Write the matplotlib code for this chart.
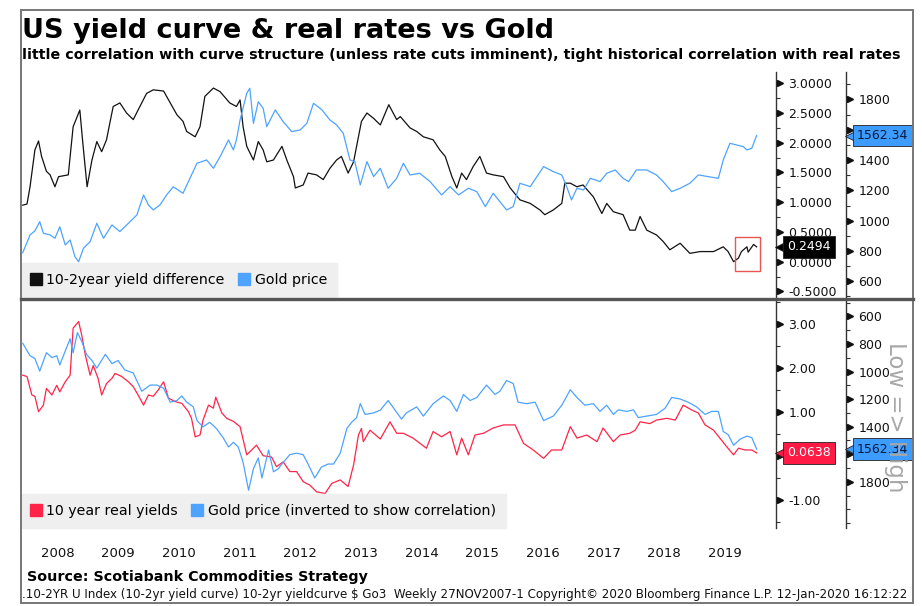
import matplotlib
matplotlib.use('Agg')
import matplotlib.pyplot as plt
from matplotlib.lines import Line2D
from matplotlib.patches import Rectangle
from matplotlib.ticker import MultipleLocator, FormatStrFormatter
from matplotlib.transforms import ScaledTranslation

plt.rcParams['font.family'] = ['DejaVu Sans']

# 10-2 year yield difference (top panel), decimal years
curve_t = [2007.93, 2008.00, 2008.05, 2008.13, 2008.19, 2008.24, 2008.32, 2008.38, 2008.46, 2008.52,
           2008.68, 2008.76, 2008.87, 2008.92, 2008.99, 2009.07, 2009.15, 2009.23, 2009.31, 2009.37,
           2009.42, 2009.53, 2009.64, 2009.75, 2009.86, 2009.97, 2010.08, 2010.25, 2010.36, 2010.47,
           2010.57, 2010.63, 2010.77, 2010.85, 2010.93, 2011.07, 2011.18, 2011.34, 2011.45, 2011.51,
           2011.56, 2011.62, 2011.73, 2011.81, 2011.89, 2011.95, 2012.06, 2012.20, 2012.28, 2012.39,
           2012.42, 2012.55, 2012.63, 2012.77, 2012.88, 2012.99, 2013.10, 2013.18, 2013.29, 2013.38,
           2013.46, 2013.51, 2013.60, 2013.71, 2013.82, 2013.96, 2014.09, 2014.15, 2014.31, 2014.42,
           2014.53, 2014.69, 2014.80, 2014.89, 2015.00, 2015.08, 2015.16, 2015.24, 2015.35, 2015.46,
           2015.57, 2015.68, 2015.85, 2015.96, 2016.12, 2016.29, 2016.45, 2016.53, 2016.67, 2016.81,
           2016.86, 2016.95, 2017.06, 2017.16, 2017.33, 2017.47, 2017.55, 2017.66, 2017.82, 2017.93,
           2018.02, 2018.10, 2018.21, 2018.37, 2018.48, 2018.59, 2018.76, 2018.92, 2019.09, 2019.31,
           2019.47, 2019.55, 2019.64, 2019.72, 2019.77, 2019.86, 2019.88, 2019.97, 2020.02]
curve_v = [0.95, 0.97, 1.26, 1.88, 2.03, 1.77, 1.52, 1.46, 1.26, 1.43,
           1.46, 2.27, 2.55, 1.99, 1.26, 1.71, 2.02, 1.85, 2.05, 2.36,
           2.61, 2.67, 2.50, 2.39, 2.61, 2.83, 2.89, 2.87, 2.67, 2.47,
           2.36, 2.19, 2.10, 2.27, 2.78, 2.92, 2.86, 2.67, 2.61, 2.72,
           2.27, 1.94, 1.71, 2.02, 1.88, 1.68, 1.71, 1.94, 1.71, 1.43,
           1.24, 1.29, 1.49, 1.46, 1.38, 1.57, 1.71, 1.77, 1.49, 1.68,
           2.10, 2.36, 2.50, 2.41, 2.30, 2.64, 2.39, 2.44, 2.25, 2.19,
           2.10, 2.05, 1.88, 1.77, 1.43, 1.24, 1.49, 1.38, 1.60, 1.77,
           1.49, 1.46, 1.43, 1.24, 1.04, 0.98, 0.87, 0.79, 0.87, 0.98,
           1.32, 1.32, 1.26, 1.29, 1.09, 0.81, 0.98, 0.84, 0.79, 0.53,
           0.53, 0.76, 0.53, 0.45, 0.34, 0.20, 0.31, 0.14, 0.17, 0.17,
           0.25, 0.17, 0.00, 0.06, 0.17, 0.25, 0.16, 0.29, 0.2494]

# gold price
gold_top_t = [2007.93, 2008.05, 2008.13, 2008.21, 2008.27, 2008.38, 2008.46, 2008.54, 2008.63, 2008.71,
              2008.79, 2008.85, 2008.93, 2009.04, 2009.15, 2009.26, 2009.40, 2009.53, 2009.67, 2009.81,
              2009.92, 2010.00, 2010.08, 2010.19, 2010.30, 2010.41, 2010.57, 2010.71, 2010.80, 2010.96,
              2011.07, 2011.18, 2011.32, 2011.40, 2011.45, 2011.51, 2011.62, 2011.67, 2011.73, 2011.81,
              2011.89, 2011.95, 2012.09, 2012.22, 2012.36, 2012.50, 2012.61, 2012.72, 2012.86, 2012.99,
              2013.10, 2013.21, 2013.32, 2013.40, 2013.49, 2013.60, 2013.71, 2013.82, 2013.95, 2014.09,
              2014.20, 2014.31, 2014.47, 2014.64, 2014.83, 2014.97, 2015.11, 2015.27, 2015.41, 2015.55,
              2015.68, 2015.90, 2016.01, 2016.12, 2016.29, 2016.40, 2016.51, 2016.67, 2016.81, 2016.89,
              2016.97, 2017.06, 2017.17, 2017.28, 2017.44, 2017.55, 2017.69, 2017.82, 2017.91, 2018.04,
              2018.21, 2018.37, 2018.48, 2018.62, 2018.76, 2018.92, 2019.06, 2019.22, 2019.39, 2019.47,
              2019.58, 2019.69, 2019.80, 2019.86, 2019.94, 2020.02]
gold_top_v = [789, 906, 933, 993, 917, 906, 884, 960, 840, 873,
              762, 729, 818, 862, 983, 884, 972, 928, 983, 1038,
              1170, 1104, 1071, 1104, 1170, 1224, 1181, 1302, 1379, 1401,
              1346, 1422, 1533, 1467, 1533, 1665, 1841, 1874, 1643, 1785,
              1742, 1621, 1731, 1654, 1588, 1599, 1643, 1775, 1731, 1665,
              1632, 1577, 1401, 1390, 1236, 1390, 1291, 1346, 1214, 1280,
              1379, 1302, 1313, 1258, 1170, 1225, 1170, 1214, 1192, 1093,
              1181, 1071, 1093, 1247, 1225, 1291, 1357, 1324, 1302, 1225,
              1137, 1214, 1203, 1280, 1258, 1313, 1335, 1280, 1258, 1335,
              1335, 1302, 1258, 1192, 1214, 1247, 1302, 1291, 1280, 1401,
              1511, 1500, 1489, 1467, 1478, 1562.34]

# 10 year real yields (bottom panel)
real_t = [2007.93, 2008.00, 2008.08, 2008.13, 2008.19, 2008.27, 2008.32, 2008.41, 2008.49, 2008.54,
          2008.63, 2008.71, 2008.76, 2008.85, 2008.90, 2008.96, 2009.04, 2009.09, 2009.17, 2009.23,
          2009.31, 2009.40, 2009.45, 2009.56, 2009.67, 2009.75, 2009.83, 2009.92, 2010.00, 2010.08,
          2010.16, 2010.25, 2010.33, 2010.44, 2010.55, 2010.66, 2010.71, 2010.77, 2010.85, 2010.90,
          2010.99, 2011.07, 2011.11, 2011.21, 2011.29, 2011.40, 2011.51, 2011.62, 2011.70, 2011.78,
          2011.89, 2012.03, 2012.11, 2012.22, 2012.33, 2012.44, 2012.55, 2012.66, 2012.77, 2012.91,
          2013.02, 2013.16, 2013.29, 2013.38, 2013.46, 2013.51, 2013.54, 2013.65, 2013.82, 2013.98,
          2014.09, 2014.20, 2014.36, 2014.58, 2014.69, 2014.83, 2014.97, 2015.08, 2015.16, 2015.27,
          2015.38, 2015.52, 2015.68, 2015.85, 2016.04, 2016.18, 2016.34, 2016.51, 2016.64, 2016.81,
          2016.95, 2017.06, 2017.22, 2017.39, 2017.49, 2017.66, 2017.77, 2017.93, 2018.02, 2018.10,
          2018.26, 2018.37, 2018.54, 2018.68, 2018.81, 2018.95, 2019.06, 2019.17, 2019.31, 2019.42,
          2019.53, 2019.64, 2019.72, 2019.83, 2019.94, 2020.02]
real_v = [1.83, 1.80, 1.38, 1.35, 1.00, 1.15, 1.53, 1.38, 1.60, 1.45,
          1.68, 1.83, 2.90, 3.05, 2.75, 2.29, 1.83, 2.05, 1.76, 1.38,
          1.64, 1.76, 1.87, 1.80, 1.68, 1.57, 1.38, 1.15, 1.38, 1.35,
          1.49, 1.68, 1.31, 1.23, 1.19, 1.00, 0.85, 0.43, 0.47, 0.81,
          1.15, 1.08, 1.33, 0.97, 0.85, 0.78, 0.66, 0.02, 0.13, 0.24,
          0.00, -0.03, -0.25, -0.14, -0.36, -0.36, -0.59, -0.67, -0.82, -0.86,
          -0.63, -0.55, -0.70, -0.21, 0.47, 0.62, 0.32, 0.58, 0.38, 0.77,
          0.51, 0.51, 0.40, 0.17, 0.55, 0.43, 0.55, 0.02, 0.40, 0.02,
          0.47, 0.51, 0.63, 0.70, 0.70, 0.28, 0.13, -0.06, 0.13, 0.13,
          0.66, 0.40, 0.47, 0.32, 0.63, 0.32, 0.47, 0.51, 0.58, 0.77,
          0.73, 0.81, 0.85, 0.81, 1.15, 1.04, 0.97, 0.70, 0.58, 0.39,
          0.20, 0.02, 0.17, 0.13, 0.13, 0.0638]

# gold price as read from the bottom (inverted) panel
gold_bot_t = [2007.93, 2008.05, 2008.13, 2008.21, 2008.32, 2008.41, 2008.49, 2008.54, 2008.63, 2008.71,
              2008.76, 2008.83, 2008.90, 2008.98, 2009.07, 2009.15, 2009.29, 2009.40, 2009.50, 2009.61,
              2009.75, 2009.89, 2010.03, 2010.14, 2010.25, 2010.36, 2010.47, 2010.55, 2010.63, 2010.74,
              2010.80, 2010.90, 2011.01, 2011.12, 2011.23, 2011.32, 2011.40, 2011.48, 2011.56, 2011.65,
              2011.73, 2011.81, 2011.87, 2011.98, 2012.06, 2012.14, 2012.22, 2012.33, 2012.44, 2012.55,
              2012.63, 2012.74, 2012.85, 2012.96, 2013.05, 2013.16, 2013.27, 2013.35, 2013.43, 2013.49,
              2013.57, 2013.71, 2013.82, 2013.95, 2014.06, 2014.17, 2014.25, 2014.42, 2014.53, 2014.69,
              2014.86, 2014.97, 2015.08, 2015.19, 2015.30, 2015.41, 2015.57, 2015.71, 2015.79, 2015.90,
              2016.01, 2016.09, 2016.23, 2016.37, 2016.51, 2016.67, 2016.81, 2016.95, 2017.06, 2017.19,
              2017.33, 2017.44, 2017.55, 2017.66, 2017.74, 2017.88, 2017.99, 2018.07, 2018.21, 2018.37,
              2018.51, 2018.62, 2018.76, 2018.89, 2019.03, 2019.17, 2019.28, 2019.39, 2019.47, 2019.55,
              2019.64, 2019.75, 2019.86, 2019.94, 2020.02]
gold_bot_v = [795, 885, 906, 997, 863, 899, 885, 952, 851, 762,
              863, 717, 780, 875, 920, 975, 875, 942, 920, 988,
              1010, 1143, 1098, 1098, 1121, 1222, 1210, 1177, 1222, 1256,
              1356, 1401, 1368, 1413, 1479, 1547, 1513, 1547, 1659, 1861,
              1705, 1626, 1772, 1569, 1727, 1705, 1659, 1603, 1592, 1603,
              1671, 1772, 1693, 1671, 1671, 1592, 1412, 1367, 1334, 1233,
              1311, 1300, 1280, 1210, 1278, 1345, 1300, 1256, 1323, 1233,
              1177, 1210, 1289, 1166, 1210, 1188, 1098, 1166, 1143, 1065,
              1087, 1222, 1233, 1222, 1356, 1323, 1244, 1132, 1188, 1244,
              1233, 1289, 1244, 1311, 1278, 1289, 1278, 1334, 1323, 1311,
              1267, 1188, 1199, 1222, 1256, 1311, 1289, 1289, 1435, 1457,
              1535, 1490, 1468, 1479, 1562.34]

years = [str(y) for y in range(2008, 2020)]

BLACK = '#111111'
BLUE = '#4da3ff'
RED = '#ff2448'
AXIS = '#333333'

fig = plt.figure(figsize=(9.22, 6.06), dpi=100)
W, H = 922.0, 606.0
ax1 = fig.add_axes([21 / W, 1 - 297 / H, 755 / W, 225 / H])
ax2 = fig.add_axes([21 / W, 1 - 528 / H, 755 / W, 228 / H])
ax1g = ax1.twinx()
ax2g = ax2.twinx()

ax1.plot(curve_t, curve_v, color=BLACK, lw=0.9)
ax1g.plot(gold_top_t, gold_top_v, color=BLUE, lw=0.9)
ax2.plot(real_t, real_v, color=RED, lw=0.9)
ax2g.plot(gold_bot_t, gold_bot_v, color=BLUE, lw=0.9)

# box round the latest readings
ax1.add_patch(Rectangle((2019.66, -0.157), 0.41, 0.573, fill=False, ec='#e85555', lw=1, zorder=5))

for ax in (ax1, ax2):
    ax.set_xlim(2007.901, 2020.339)
ax1.set_ylim(-0.594, 3.19)
ax1g.set_ylim(496.4, 1981.5)
ax2.set_ylim(-1.643, 3.539)
ax2g.set_ylim(2135, 480.8)

for ax in (ax1, ax2, ax1g, ax2g):
    for s in ('left', 'top', 'bottom'):
        ax.spines[s].set_visible(False)
    ax.spines['right'].set_color(AXIS)
    ax.spines['right'].set_linewidth(1)
    ax.yaxis.tick_right()
    ax.tick_params(axis='y', which='major', length=0, pad=9, labelsize=9, labelcolor=BLACK)
    ax.tick_params(axis='y', which='minor', length=3, width=0.8, color=AXIS, direction='out')
    ax.patch.set_visible(False)
for ax in (ax1g, ax2g):
    ax.spines['right'].set_position(('axes', 825 / 755))

ax1.set_yticks([-0.5, 0.0, 0.5, 1.0, 1.5, 2.0, 2.5, 3.0])
ax1.yaxis.set_major_formatter(FormatStrFormatter('%.4f'))
ax1.yaxis.set_minor_locator(MultipleLocator(0.25))
ax1g.set_yticks([600, 800, 1000, 1200, 1400, 1600, 1800])
ax1g.yaxis.set_minor_locator(MultipleLocator(100))
ax2.set_yticks([-1, 0, 1, 2, 3])
ax2.yaxis.set_major_formatter(FormatStrFormatter('%.2f'))
ax2.yaxis.set_minor_locator(MultipleLocator(0.5))
ax2g.set_yticks([600, 800, 1000, 1200, 1400, 1600, 1800])
ax2g.yaxis.set_minor_locator(MultipleLocator(100))

ax1.tick_params(axis='x', bottom=False, labelbottom=False)
ax2.set_xticks([int(y) + 0.5 for y in years])
ax2.set_xticklabels(years)
ax2.tick_params(axis='x', length=0, pad=14, labelsize=9.5, labelcolor=BLACK)

# triangle markers at the major ticks
shift = ScaledTranslation(3 / 72, 0, fig.dpi_scale_trans)
for ax, xpos in ((ax1, 1.0), (ax2, 1.0), (ax1g, 825 / 755), (ax2g, 825 / 755)):
    ticks = ax.get_yticks()
    ax.plot([xpos] * len(ticks), ticks, ls='none', marker='>', ms=4.5, color=BLACK,
            transform=ax.get_yaxis_transform() + shift, clip_on=False, zorder=6)


def last_label(ax, xpos, value, text, fc, tc):
    tr = ax.get_yaxis_transform()
    ax.text(xpos, value, text, transform=tr + ScaledTranslation(11 / 100, 0, fig.dpi_scale_trans),
            ha='left', va='center', fontsize=9, color=tc, zorder=10, clip_on=False,
            bbox=dict(boxstyle='square,pad=0.35', fc=fc, ec='#222222', lw=0.6))
    ax.plot([xpos], [value], ls='none', marker='<', ms=9, color=fc, mec='#222222', mew=0.6,
            transform=tr + ScaledTranslation(5 / 100, 0, fig.dpi_scale_trans), clip_on=False, zorder=9)


last_label(ax1g, 1.0, ax1g.transData.inverted().transform(ax1.transData.transform((0, curve_v[-1])))[1],
           '%.4f' % curve_v[-1], 'black', 'white')
last_label(ax1g, 825 / 755, gold_top_v[-1], '%.2f' % gold_top_v[-1], '#3d9cff', '#0a1a3a')
last_label(ax2g, 1.0, ax2g.transData.inverted().transform(ax2.transData.transform((0, real_v[-1])))[1],
           '%.4f' % real_v[-1], '#ff1a45', 'white')
last_label(ax2g, 825 / 755, gold_bot_v[-1], '%.2f' % gold_bot_v[-1], '#3d9cff', '#0a1a3a')


def sq(color):
    return Line2D([], [], ls='none', marker='s', ms=8, color=color)


for ax, handles, labels in ((ax1g, [sq(BLACK), sq(BLUE)], ['10-2year yield difference', 'Gold price']),
                            (ax2g, [sq(RED), sq(BLUE)], ['10 year real yields',
                                                         'Gold price (inverted to show correlation)'])):
    leg = ax.legend(handles, labels, loc='lower left', bbox_to_anchor=(0, 0), borderaxespad=0,
                    ncol=2, frameon=True, fancybox=False, fontsize=10.2, handlelength=0.7,
                    handletextpad=0.4, columnspacing=1.0, borderpad=0.7)
    leg.get_frame().set_facecolor('#efefef')
    leg.get_frame().set_edgecolor('#efefef')
    leg.get_frame().set_alpha(1)
    leg.set_zorder(20)

# titles and footers
fig.text(22 / W, 1 - 38 / H, 'US yield curve & real rates vs Gold', fontsize=19.5,
         fontweight='bold', va='baseline', ha='left')
fig.text(22 / W, 1 - 59 / H, 'little correlation with curve structure (unless rate cuts imminent), '
         'tight historical correlation with real rates', fontsize=10.3, fontweight='bold',
         va='baseline', ha='left')
fig.text(27 / W, 1 - 581 / H, 'Source: Scotiabank Commodities Strategy', fontsize=10.25,
         fontweight='bold', va='baseline', ha='left')
fig.text(22 / W, 1 - 598 / H, '.10-2YR U Index (10-2yr yield curve) 10-2yr yieldcurve $ Go3  Weekly '
         '27NOV2007-1 Copyright\u00a9 2020 Bloomberg Finance L.P. 12-Jan-2020 16:12:22',
         fontsize=8.6, va='baseline', ha='left', color='#111111')
fig.text(895 / W, 1 - 417 / H, 'Low => High', rotation=-90, fontsize=16.5, color='#a8a8a8',
         ha='center', va='center')

# frame and panel separator
fig.add_artist(Rectangle((21 / W, 1 - 603 / H), 892 / W, 593 / H, transform=fig.transFigure,
                         fill=False, ec='#777777', lw=1.4))
fig.add_artist(Line2D([21 / W, 913 / W], [1 - 298.5 / H, 1 - 298.5 / H], transform=fig.transFigure,
                      color='#555555', lw=2.4))

fig.savefig('out.png', dpi=100)
